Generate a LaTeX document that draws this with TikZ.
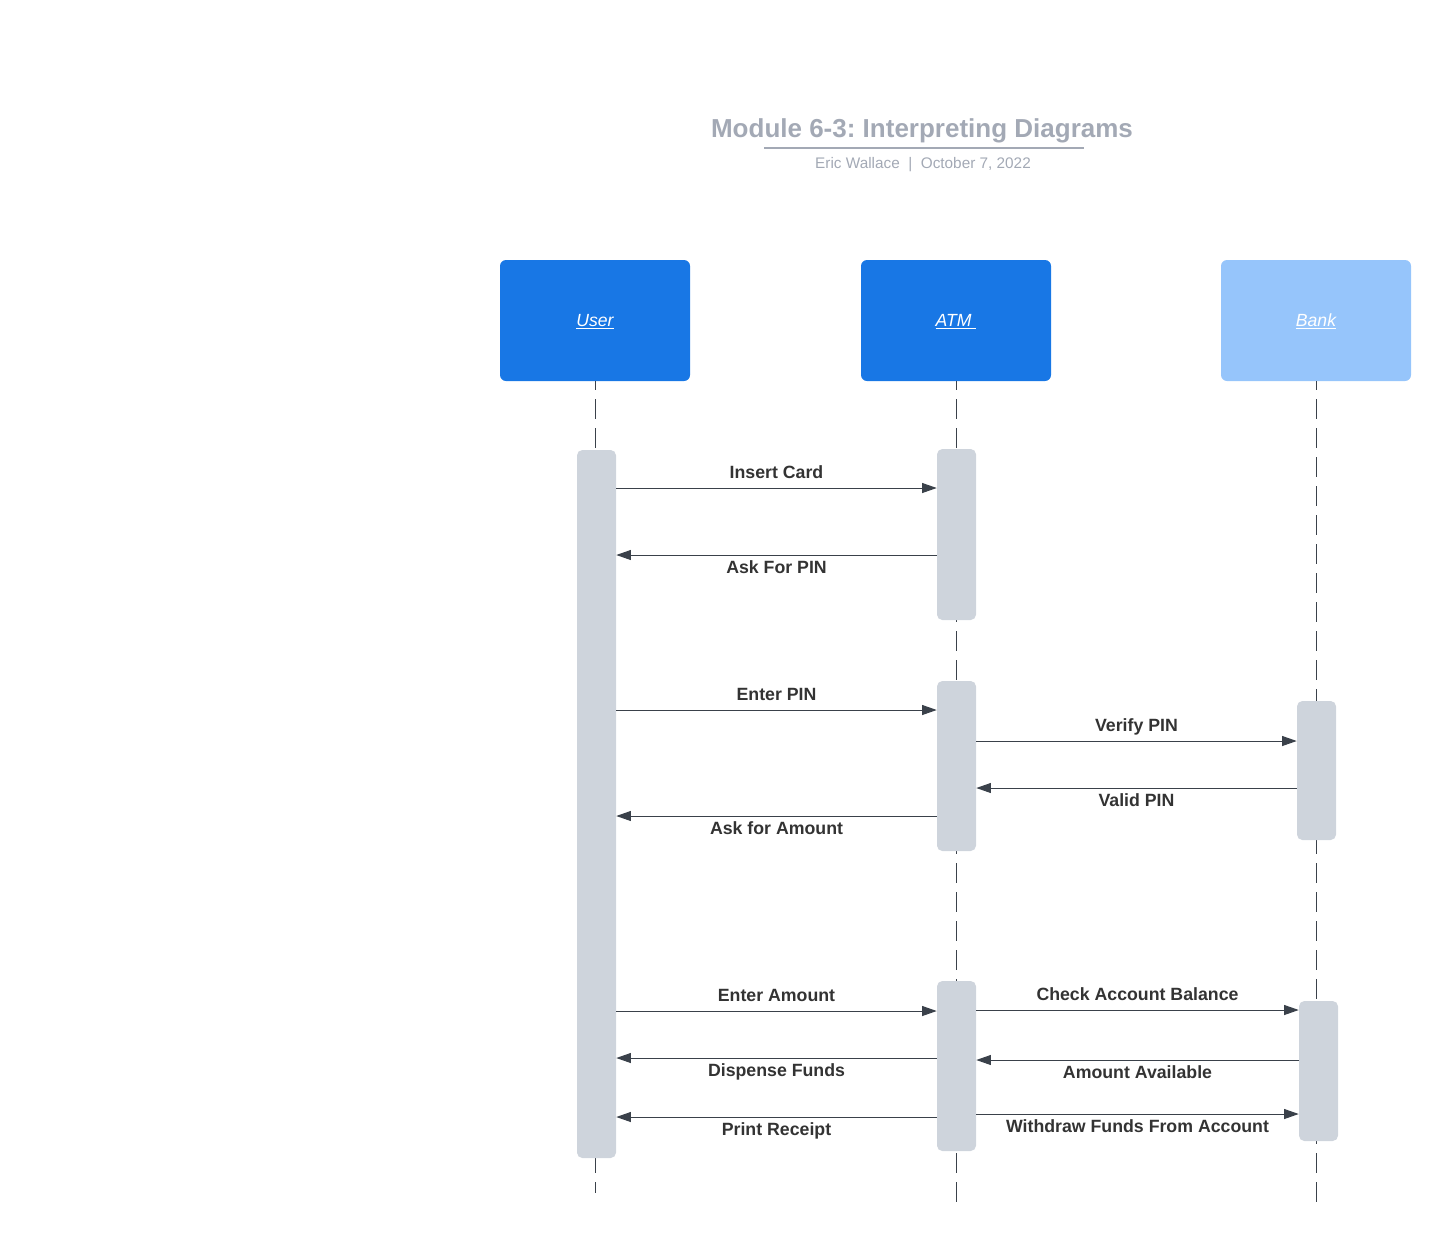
\documentclass[tikz,border=0pt]{standalone}
\usepackage{fontspec}
\setmainfont{Liberation Sans}
\usepackage{tikz}
\usetikzlibrary{arrows.meta}
\frenchspacing
\definecolor{headblue}{HTML}{1877E5}
\definecolor{headlight}{HTML}{96C5FB}
\definecolor{barfill}{HTML}{CED4DC}
\definecolor{linegray}{HTML}{3A414A}
\definecolor{titlegray}{HTML}{A3A9B5}
\definecolor{textdark}{HTML}{333333}
\tikzstyle{head} = [rectangle, rounded corners=4.5pt, minimum width=142.5pt, minimum height=90.75pt, text=white, text height=9.3pt, text depth=0pt, font=\fontsize{13.2}{15}\selectfont\itshape]
\tikzstyle{act} = [rectangle, rounded corners=4pt, fill=barfill, minimum width=29.25pt, inner sep=0pt]
\tikzstyle{life} = [draw=linegray, line width=0.75pt, dash pattern=on 15pt off 6.75pt, dash phase=8.25pt]
\tikzstyle{msg} = [draw=linegray, line width=0.75pt, -{Triangle[length=11pt,width=7.5pt]}]
\tikzstyle{lbl} = [text=textdark, font=\fontsize{13.3}{15}\selectfont\bfseries, inner sep=0pt, midway, anchor=base]

\begin{document}
\begin{tikzpicture}[x=0.75pt, y=-0.75pt]
		\useasboundingbox (0,0) rectangle (1452,1243);
		% title
		\node[text=titlegray, font=\fontsize{19.5}{23}\selectfont\bfseries, anchor=base, inner sep=0pt] (title) at (922,137) {Module 6-3: Interpreting Diagrams};
		\draw[titlegray, line width=1.5pt] (764,148) -- (1084,148);
		\node[text=titlegray, font=\fontsize{11.5}{13}\selectfont, anchor=base, inner sep=0pt] (subtitle) at (923,168) {Eric Wallace~~|~~October 7, 2022};
		% heads
		\node[head, fill=headblue] (uhead) at (595,320.5) {\underline{User}};
		\node[head, fill=headblue] (ahead) at (956,320.5) {\underline{ATM\ }};
		\node[head, fill=headlight] (bhead) at (1316,320.5) {\underline{Bank}};
		% lifelines
		\coordinate (uend) at (595,1193);
		\coordinate (aend) at (956,1203);
		\coordinate (bend) at (1316,1203);
		\draw[life] (uhead.south) -- (uend);
		\draw[life] (ahead.south) -- (aend);
		\draw[life] (bhead.south) -- (bend);
		% activation bars
		\node[act, minimum height=531pt] (ubar) at (596.5,804) {};
		\node[act, minimum height=128.25pt] (abar1) at (956.5,534.5) {};
		\node[act, minimum height=127.5pt] (abar2) at (956.5,766) {};
		\node[act, minimum height=104.25pt] (bbar1) at (1316.5,770.5) {};
		\node[act, minimum height=127.5pt] (abar3) at (956.5,1066) {};
		\node[act, minimum height=105pt] (bbar2) at (1318.5,1071) {};
		% messages
		\draw[msg] (ubar.east |- 0,488) -- (abar1.west |- 0,488) node[lbl, yshift=7.5pt] {Insert Card};
		\draw[msg] (abar1.west |- 0,555) -- (ubar.east |- 0,555) node[lbl, yshift=-13.5pt] {Ask For PIN};
		\draw[msg] (ubar.east |- 0,710) -- (abar2.west |- 0,710) node[lbl, yshift=7.5pt] {Enter PIN};
		\draw[msg] (abar2.east |- 0,741) -- (bbar1.west |- 0,741) node[lbl, yshift=7.5pt] {Verify PIN};
		\draw[msg] (bbar1.west |- 0,788) -- (abar2.east |- 0,788) node[lbl, yshift=-13.5pt] {Valid PIN};
		\draw[msg] (abar2.west |- 0,816) -- (ubar.east |- 0,816) node[lbl, yshift=-13.5pt] {Ask for Amount};
		\draw[msg] (ubar.east |- 0,1011) -- (abar3.west |- 0,1011) node[lbl, yshift=7.5pt] {Enter Amount};
		\draw[msg] (abar3.east |- 0,1010) -- (bbar2.west |- 0,1010) node[lbl, yshift=7.5pt] {Check Account Balance};
		\draw[msg] (abar3.west |- 0,1058) -- (ubar.east |- 0,1058) node[lbl, yshift=-13.5pt] {Dispense Funds};
		\draw[msg] (bbar2.west |- 0,1060) -- (abar3.east |- 0,1060) node[lbl, yshift=-13.5pt] {Amount Available};
		\draw[msg] (abar3.west |- 0,1117) -- (ubar.east |- 0,1117) node[lbl, yshift=-13.5pt] {Print Receipt};
		\draw[msg] (abar3.east |- 0,1114) -- (bbar2.west |- 0,1114) node[lbl, yshift=-13.5pt] {Withdraw Funds From Account};
\end{tikzpicture}
\end{document}
